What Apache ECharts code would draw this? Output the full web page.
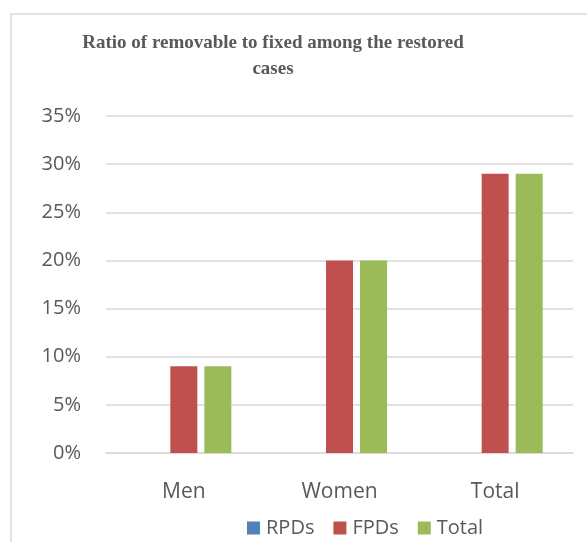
<!DOCTYPE html>
<html><head><meta charset="utf-8">
<script src="https://cdn.jsdelivr.net/npm/echarts@6/dist/echarts.min.js"></script>
<style>html,body{margin:0;padding:0;background:#fff}#c{width:587px;height:542px}</style>
</head><body><div id="c"></div>
<script>
const categories = ['Men', 'Women', 'Total'];
const rpds = [0, 0, 0];
const fpds = [9, 20, 29];
const totals = [9, 20, 29];
const yTicks = [0, 5, 10, 15, 20, 25, 30, 35];

const chart = echarts.init(document.getElementById('c'));
const txt = '#595959';
const sans = '"Open Sans", sans-serif';
chart.setOption({
  animation: false,
  graphic: [{
    type: 'rect', shape: {x: 11, y: 14, width: 700, height: 700},
    style: {fill: 'none', stroke: '#d9d9d9', lineWidth: 1.5}, silent: true
  }],
  title: {
    text: 'Ratio of removable to fixed among the restored\ncases',
    left: 268, top: 25, textAlign: 'center',
    textStyle: {fontFamily: '"Liberation Serif", "Times New Roman", serif', fontWeight: 'bold', fontSize: 19, color: txt, lineHeight: 26}
  },
  grid: {left: 106, right: 14, top: 116, bottom: 89},
  legend: {
    top: 513, left: 242, itemWidth: 13, itemHeight: 13, itemGap: 19,
    icon: 'rect',
    textStyle: {fontFamily: sans, fontSize: 20, color: txt, padding: [0, 0, 0, 1]},
    data: ['RPDs', 'FPDs', 'Total']
  },
  xAxis: {
    type: 'category', data: categories,
    axisLine: {lineStyle: {color: '#d9d9d9', width: 1.5}},
    axisTick: {show: false},
    axisLabel: {fontFamily: sans, fontSize: 21, color: txt, margin: 29}
  },
  yAxis: {
    type: 'value', min: yTicks[0], max: yTicks[yTicks.length - 1], interval: 5,
    axisLine: {show: false}, axisTick: {show: false},
    splitLine: {lineStyle: {color: '#d9d9d9', width: 1.5}},
    axisLabel: {fontFamily: sans, fontSize: 20, color: txt, margin: 25, formatter: v => v + '%'}
  },
  series: [
    {name: 'RPDs', type: 'bar', data: rpds, barWidth: 27, barGap: '26%', itemStyle: {color: '#4f81bd'}},
    {name: 'FPDs', type: 'bar', data: fpds, barWidth: 27, barGap: '26%', itemStyle: {color: '#c0504d'}},
    {name: 'Total', type: 'bar', data: totals, barWidth: 27, barGap: '26%', itemStyle: {color: '#9bbb59'}}
  ]
});
</script></body></html>
